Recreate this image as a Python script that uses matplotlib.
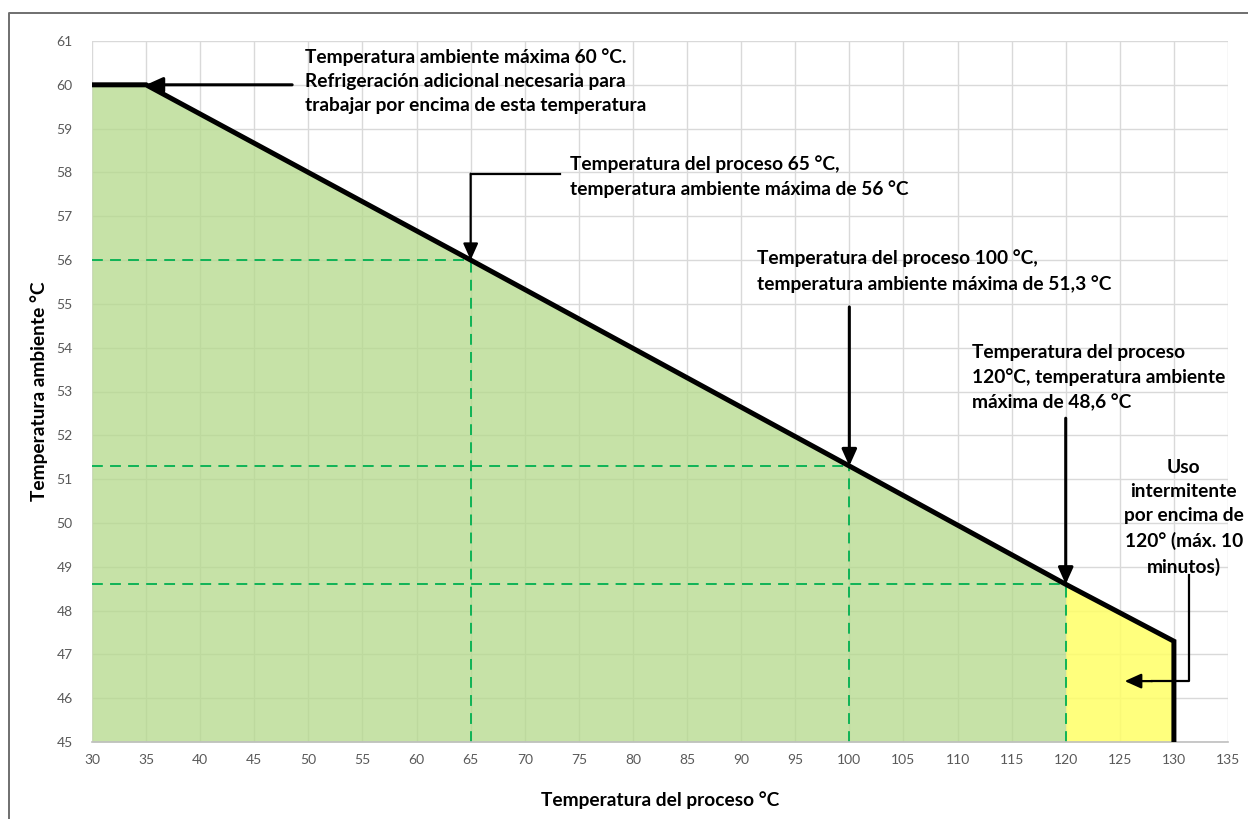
import matplotlib
matplotlib.use("Agg")
import matplotlib.pyplot as plt
from matplotlib.lines import Line2D

# ---- data ----
proc_temp = [30, 35, 65, 100, 120, 130, 130]
amb_temp = [60, 60, 56, 51.3, 48.6, 47.3, 45]

green_x = [30, 35, 65, 100, 120]
green_y = [60, 60, 56, 51.3, 48.6]
yellow_x = [120, 130]
yellow_y = [48.6, 47.3]

guide_x = [65, 100, 120]
guide_y = [56, 51.3, 48.6]

x_ticks = list(range(30, 136, 5))
y_ticks = list(range(45, 62, 1))

x_label = "Temperatura del proceso °C"
y_label = "Temperatura ambiente °C"

note_60 = "Temperatura ambiente máxima 60 °C.\nRefrigeración adicional necesaria para\ntrabajar por encima de esta temperatura"
note_65 = "Temperatura del proceso 65 °C,\ntemperatura ambiente máxima de 56 °C"
note_100 = "Temperatura del proceso 100 °C,\ntemperatura ambiente máxima de 51,3 °C"
note_120 = "Temperatura del proceso\n120°C, temperatura ambiente\nmáxima de 48,6 °C"
note_int = "Uso\nintermitente\npor encima de\n120° (máx. 10\nminutos)"

plt.rcParams['font.family'] = ['Lato', 'DejaVu Sans']

fig = plt.figure(figsize=(12.48, 8.19), dpi=100)
ax = fig.add_axes([92/1248, 1-742/819, (1228-92)/1248, (742-41)/819])

# figure border (left and top edges visible)
bx, by = 9/1248, 1-13/819
fig.add_artist(Line2D([bx, bx, 1.0], [0.0, by, by], transform=fig.transFigure,
                      color='#6f6f6f', linewidth=1.4))

ax.set_xlim(30, 135)
ax.set_ylim(45, 61)
ax.set_xticks(x_ticks)
ax.set_yticks(y_ticks)
ax.grid(True, color='#d9d9d9', linewidth=1.0, zorder=0)
ax.set_axisbelow(True)
ax.tick_params(length=0, labelsize=10, labelcolor='#595959')
ax.tick_params(axis='y', pad=14)
ax.tick_params(axis='x', pad=9)
for s in ['top', 'right', 'left']:
    ax.spines[s].set_visible(False)
ax.spines['bottom'].set_color('#bfbfbf')
ax.spines['bottom'].set_linewidth(1.2)

# fills
ax.fill_between(green_x, green_y, 45, color='#b4d98a', alpha=0.75, linewidth=0, zorder=1)
ax.fill_between(yellow_x, yellow_y, 45, color='#ffff66', alpha=0.85, linewidth=0, zorder=1)

# dashed guides
for gx, gy in zip(guide_x, guide_y):
    ax.plot([30, gx], [gy, gy], color='#00b050', linestyle=(0, (6, 4)), linewidth=1.3, zorder=2)
    ax.plot([gx, gx], [45, gy], color='#00b050', linestyle=(0, (6, 4)), linewidth=1.3, zorder=2)

# main line
ax.plot(proc_temp, amb_temp, color='black', linewidth=3.6, solid_joinstyle='miter',
        solid_capstyle='butt', zorder=4, clip_on=False)

FS = 13.8
txt_kw = dict(fontsize=FS, fontweight='bold', color='black', linespacing=1.5, zorder=6)
arrow_kw = dict(arrowstyle='-|>,head_length=1.0,head_width=0.45', color='black',
                linewidth=2.2, shrinkA=0, shrinkB=0)
thin_arrow_kw = dict(arrow_kw, linewidth=1.6)

# note 60
ax.text(49.7, 60.84, note_60, ha='left', va='top', **txt_kw)
ax.annotate('', xy=(35, 60), xytext=(48.5, 60), arrowprops=arrow_kw, zorder=5)

# note 65
ax.text(74.2, 58.40, note_65, ha='left', va='top', **txt_kw)
ax.plot([73.25, 65], [57.97, 57.97], color='black', linewidth=1.6, zorder=5)
ax.annotate('', xy=(65, 56), xytext=(65, 57.97), arrowprops=thin_arrow_kw, zorder=5)

# note 100
ax.text(91.45, 56.24, note_100, ha='left', va='top', **txt_kw)
ax.annotate('', xy=(100, 51.3), xytext=(100, 54.93), arrowprops=arrow_kw, zorder=5)

# note 120
ax.text(111.3, 54.09, note_120, ha='left', va='top', **txt_kw)
ax.annotate('', xy=(120, 48.6), xytext=(120, 52.39), arrowprops=arrow_kw, zorder=5)

# intermittent note
ax.text(130.9, 51.45, note_int, ha='center', va='top', fontsize=FS, fontweight='bold',
        color='black', linespacing=1.5, zorder=6)
ax.plot([131.4, 131.4, 128.0], [48.81, 46.39, 46.39], color='black', linewidth=1.6, zorder=5)
ax.annotate('', xy=(125.45, 46.39), xytext=(128.0, 46.39), arrowprops=thin_arrow_kw, zorder=5)

ax.set_xlabel(x_label, fontsize=FS, fontweight='bold', labelpad=18)
ax.set_ylabel(y_label, fontsize=FS, fontweight='bold', labelpad=6)

fig.savefig('out.png', dpi=100)
